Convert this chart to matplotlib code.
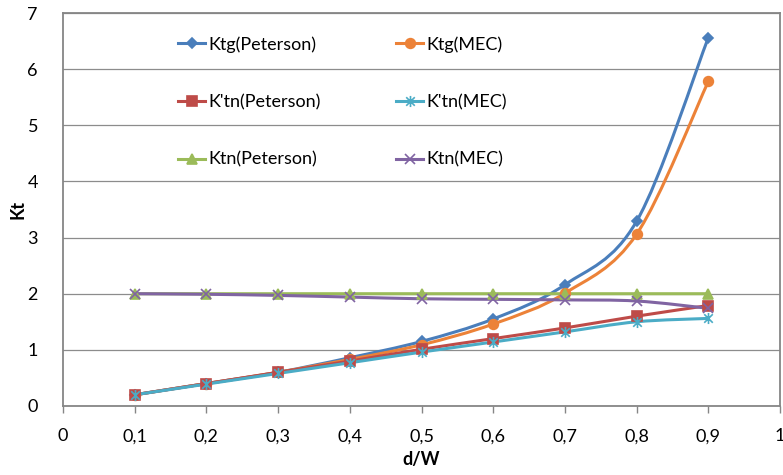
import numpy as np
import matplotlib
matplotlib.use("Agg")
import matplotlib.pyplot as plt
from matplotlib.path import Path
from matplotlib.patches import PathPatch
from matplotlib.lines import Line2D

plt.rcParams['font.family'] = ['Lato', 'DejaVu Sans']

# --- data ---
d_over_w = [0.1, 0.2, 0.3, 0.4, 0.5, 0.6, 0.7, 0.8, 0.9]
ktg_peterson = [0.20, 0.40, 0.60, 0.86, 1.15, 1.55, 2.16, 3.29, 6.56]
ktg_mec = [0.20, 0.40, 0.60, 0.83, 1.09, 1.46, 2.01, 3.06, 5.78]
ktn_prime_peterson = [0.20, 0.40, 0.60, 0.80, 1.01, 1.20, 1.39, 1.60, 1.79]
ktn_prime_mec = [0.20, 0.39, 0.58, 0.77, 0.96, 1.14, 1.32, 1.50, 1.56]
ktn_peterson = [2.00, 2.00, 2.00, 2.00, 2.00, 2.00, 2.00, 2.00, 2.00]
ktn_mec = [2.00, 1.99, 1.97, 1.94, 1.91, 1.90, 1.89, 1.87, 1.74]

x_ticks = [0, 0.1, 0.2, 0.3, 0.4, 0.5, 0.6, 0.7, 0.8, 0.9, 1]
x_tick_labels = ['0', '0,1', '0,2', '0,3', '0,4', '0,5', '0,6', '0,7', '0,8', '0,9', '1']
y_ticks = [0, 1, 2, 3, 4, 5, 6, 7]

# asterisk marker (x with a vertical bar), like Excel's
star_marker = Path([(-1, -1), (1, 1), (-1, 1), (1, -1), (0, -1.3), (0, 1.3)],
                   [Path.MOVETO, Path.LINETO, Path.MOVETO, Path.LINETO, Path.MOVETO, Path.LINETO])

series = [
    ('Ktg(Peterson)', ktg_peterson, '#4A7EBB', 'D', 5.5),
    ('Ktg(MEC)', ktg_mec, '#EC8238', 'o', 7),
    ("K'tn(Peterson)", ktn_prime_peterson, '#BE4B48', 's', 6.5),
    ("K'tn(MEC)", ktn_prime_mec, '#4BACC6', star_marker, 8),
    ('Ktn(Peterson)', ktn_peterson, '#9BBB59', '^', 7),
    ('Ktn(MEC)', ktn_mec, '#8064A2', 'x', 7),
]


def smooth_path(xs, ys):
    # Excel-style smoothed line: cubic bezier through the points
    pts = np.column_stack([xs, ys])
    n = len(pts)
    verts = [pts[0]]
    codes = [Path.MOVETO]
    for i in range(n - 1):
        p0 = pts[i - 1] if i > 0 else pts[i]
        p1 = pts[i]
        p2 = pts[i + 1]
        p3 = pts[i + 2] if i + 2 < n else pts[i + 1]
        c1 = p1 + (p2 - p0) / 6.0
        c2 = p2 - (p3 - p1) / 6.0
        verts += [c1, c2, p2]
        codes += [Path.CURVE4] * 3
    return Path(verts, codes)


fig = plt.figure(figsize=(7.83, 4.75), dpi=100)
ax = fig.add_axes([63 / 783, 1 - 406 / 475, 717 / 783, 393 / 475])

handles = []
for name, vals, color, marker, ms in series:
    ax.add_patch(PathPatch(smooth_path(d_over_w, vals), fill=False,
                           edgecolor=color, lw=2.2, zorder=3))
    ax.plot(d_over_w, vals, linestyle='none', marker=marker, markersize=ms,
            color=color, markerfacecolor=color, markeredgewidth=1.2, zorder=4)
    handles.append(Line2D([], [], color=color, lw=2.2, marker=marker,
                          markersize=ms, markerfacecolor=color, markeredgewidth=1.2))

ax.set_xlim(0, 1)
ax.set_ylim(0, 7)
ax.set_xticks(x_ticks)
ax.set_xticklabels(x_tick_labels)
ax.set_yticks(y_ticks)
ax.grid(axis='y', color='#8C8C8C', lw=0.9)
ax.set_axisbelow(True)
for sp in ax.spines.values():
    sp.set_color('#868686')
    sp.set_linewidth(1.3)
ax.tick_params(axis='x', direction='out', length=5, width=1, color='#868686',
               labelsize=13, pad=11)
ax.tick_params(axis='y', length=0, labelsize=13, pad=18)
ax.set_xlabel('d/W', fontsize=13, fontweight='bold', labelpad=5)
ax.set_ylabel('Kt', fontsize=13, fontweight='bold', labelpad=1)

order = [0, 2, 4, 1, 3, 5]
fig.legend([handles[i] for i in order], [series[i][0] for i in order],
           ncol=2, loc='upper left', bbox_to_anchor=(178 / 783, 1 - 36 / 475),
           frameon=False, fontsize=13, borderpad=0, borderaxespad=0,
           handlelength=1.5, handletextpad=0.2, labelspacing=2.3,
           columnspacing=4.15)

fig.savefig('out.png', dpi=100)
